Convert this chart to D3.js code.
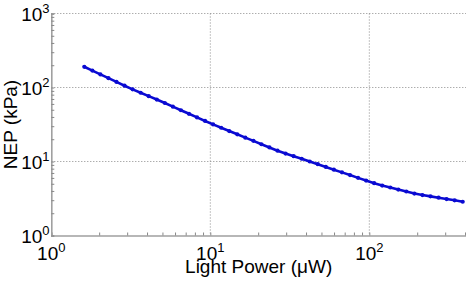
<!DOCTYPE html>
<html><head><meta charset="utf-8">
<script src="https://cdn.jsdelivr.net/npm/d3@7"></script>
<style>
html,body{margin:0;padding:0;background:#fff;}
svg{display:block;font-family:"Liberation Sans",Arial,Helvetica,sans-serif;}
</style></head>
<body>
<svg id="chart" width="466" height="283"></svg>
<script>
// Light power (µW)
const power = [1.612,1.812,2.036,2.288,2.570,2.888,3.246,3.647,4.099,4.606,5.175,5.815,6.534,7.341,8.249,9.268,
10.41,11.70,13.15,14.77,16.60,18.66,20.96,23.55,26.47,29.74,33.42,37.55,42.19,47.41,53.27,59.86,67.26,75.58,84.92,95.43,
107.2,120.5,135.4,152.1,170.9,192.1,215.8,242.5,272.5,306.2,344.1,386.6];
// NEP (kPa)
const nep = [190.5,169.4,150.3,133.7,118.9,105.7,94.4,84.9,76.4,68.7,61.7,55.1,49.3,44.1,39.4,35.3,
31.7,28.6,25.8,23.3,21.0,19.0,17.1,15.5,14.0,12.8,11.8,10.9,10.0,9.20,8.45,7.76,7.13,6.55,6.01,5.52,
5.09,4.73,4.45,4.18,3.93,3.69,3.52,3.38,3.24,3.11,2.99,2.86];
const xMajor = [1, 10, 100];
const yMajor = [1, 10, 100, 1000];
const xLabelText = "Light Power (\u03BCW)";
const yLabelText = "NEP (kPa)";

const svg = d3.select("#chart");
const L = 51.3, R = 466, T = 13.5, B = 235.5;
const x = d3.scaleLog().domain([1, Math.pow(10, 2.608)]).range([L, R]);
const y = d3.scaleLog().domain([1, 1000]).range([B, T]);

const gridColor = "#8a8a8a";
// gridlines
svg.append("g").selectAll("line.gx").data(xMajor.slice(1)).join("line")
  .attr("x1", d => x(d)).attr("x2", d => x(d)).attr("y1", T).attr("y2", B)
  .attr("stroke", gridColor).attr("stroke-width", 1).attr("stroke-dasharray", "1,2");
svg.append("g").selectAll("line.gy").data(yMajor.slice(1)).join("line")
  .attr("x1", L).attr("x2", R).attr("y1", d => y(d)).attr("y2", d => y(d))
  .attr("stroke", gridColor).attr("stroke-width", 1).attr("stroke-dasharray", "1,2");

// axes with inner ticks
const axisColor = "#a0a0a0";
const xTicks = x.ticks().filter(d => d <= x.domain()[1]);
const yTicks = y.ticks();
const gx = svg.append("g").attr("transform", `translate(0,${B})`)
  .call(d3.axisTop(x).tickValues(xTicks).tickSize(3).tickFormat(""));
const gy = svg.append("g").attr("transform", `translate(${L},0)`)
  .call(d3.axisRight(y).tickValues(yTicks).tickSize(3).tickFormat(""));
[gx, gy].forEach(g => {
  g.select(".domain").attr("stroke", axisColor).attr("stroke-width", 1.6);
  g.selectAll(".tick line").attr("stroke", "#888").attr("stroke-width", 1);
});

// tick labels (10^n)
function powLabel(sel, n) {
  sel.append("tspan").text("10");
  sel.append("tspan").attr("font-size", 13).attr("dy", -8).text(n);
}
xMajor.forEach((d, i) => {
  const t = svg.append("text").attr("x", x(d)).attr("y", 259.5)
    .attr("text-anchor", "middle").attr("font-size", 19).attr("fill", "#000");
  powLabel(t, Math.round(Math.log10(d)));
});
yMajor.forEach(d => {
  const t = svg.append("text").attr("x", 49.5).attr("y", y(d) + 7.5)
    .attr("text-anchor", "end").attr("font-size", 19).attr("fill", "#000");
  powLabel(t, Math.round(Math.log10(d)));
});

// axis labels
svg.append("text").attr("x", (L + R) / 2).attr("y", 272.5)
  .attr("text-anchor", "middle").attr("font-size", 19).text(xLabelText);
svg.append("text").attr("transform", `translate(17,${(T + B) / 2}) rotate(-90)`)
  .attr("text-anchor", "middle").attr("font-size", 19).text(yLabelText);

// data line
const pts = power.map((p, i) => [p, nep[i]]);
const lineColor = "#0a0ad2";
svg.append("path").datum(pts)
  .attr("d", d3.line().x(d => x(d[0])).y(d => y(d[1])))
  .attr("fill", "none").attr("stroke", lineColor).attr("stroke-width", 2.6)
  .attr("stroke-linejoin", "round").attr("stroke-linecap", "round");
svg.append("g").selectAll("circle").data(pts).join("circle")
  .attr("cx", d => x(d[0])).attr("cy", d => y(d[1])).attr("r", 2.1)
  .attr("fill", lineColor);
</script>
</body></html>
